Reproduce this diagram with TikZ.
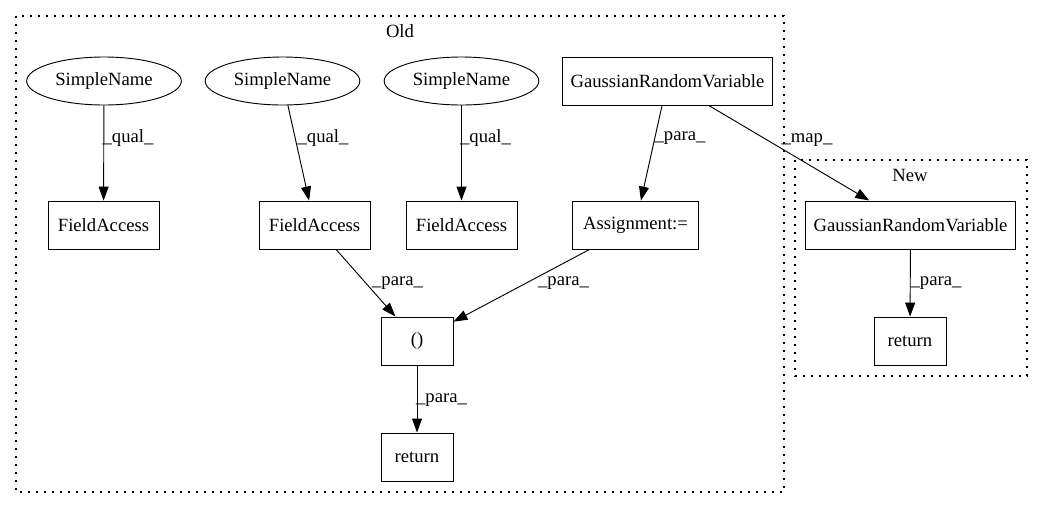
\documentclass[tikz,border=0pt]{standalone}
\usepackage{fontspec}
\setmainfont{Liberation Serif}
\usetikzlibrary{arrows.meta,shapes.geometric}
\begin{document}
\begin{tikzpicture}[x=0.75pt,y=-0.75pt,
  font=\fontsize{14pt}{16pt}\selectfont,
  box/.style={draw,line width=0.7pt,rectangle,minimum height=36pt,inner sep=0pt},
  ell/.style={draw,line width=0.7pt,ellipse,minimum width=116pt,minimum height=36pt,inner sep=0pt},
  conn/.style={line width=0.7pt,-{Triangle[length=10.5pt,width=7.5pt]}},
  lbl/.style={inner sep=0pt},
  cluster/.style={line width=0.8pt,dash pattern=on 1.2pt off 4.8pt}]
\useasboundingbox (0,0) rectangle (1043,508);
% clusters
\draw[cluster] (16,16) rectangle (784,492);
\node[lbl] (oldlbl) at (400,31) {Old};
\draw[cluster] (795,160) rectangle (1027,376);
\node[lbl] (newlbl) at (910,175) {New};
% nodes
\node[ell] (sn1) at (104,81) {SimpleName};
\node[ell] (sn2) at (282.5,81) {SimpleName};
\node[ell] (sn3) at (461.5,81) {SimpleName};
\node[box,minimum width=158pt] (grvo) at (667.5,81) {GaussianRandomVariable};
\node[box,minimum width=83.25pt] (fa1) at (103.5,225) {FieldAccess};
\node[box,minimum width=83.25pt] (fa2) at (314.5,225) {FieldAccess};
\node[box,minimum width=83.25pt] (fa3) at (461.5,225) {FieldAccess};
\node[box,minimum width=94pt] (asg) at (635.5,225) {Assignment:=};
\node[box,minimum width=54pt] (par) at (417,341) {()};
\node[box,minimum width=54pt] (reto) at (417,457) {return};
\node[box,minimum width=158pt] (grvn) at (910.5,225) {GaussianRandomVariable};
\node[box,minimum width=54pt] (retn) at (910,341) {return};
% edges
\draw[conn] (sn1) -- (fa1);
\draw[conn] (sn2) -- (fa2);
\draw[conn] (sn3) -- (fa3);
\draw[conn] (grvo) -- (asg);
\draw[conn] (grvo) -- (grvn);
\draw[conn] (fa2) -- (par);
\draw[conn] (asg) -- (par);
\draw[conn] (par) -- (reto);
\draw[conn] (grvn) -- (retn);
% edge labels
\node[lbl] (l1) at (128,138) {\_qual\_};
\node[lbl] (l2) at (323,138) {\_qual\_};
\node[lbl] (l3) at (485.5,138) {\_qual\_};
\node[lbl] (l4) at (680,138) {\_para\_};
\node[lbl] (l5) at (807,140) {\_map\_};
\node[lbl] (l6) at (397.5,283) {\_para\_};
\node[lbl] (l7) at (563.5,283) {\_para\_};
\node[lbl] (l8) at (441.5,400) {\_para\_};
\node[lbl] (l9) at (936,283) {\_para\_};
\end{tikzpicture}
\end{document}
